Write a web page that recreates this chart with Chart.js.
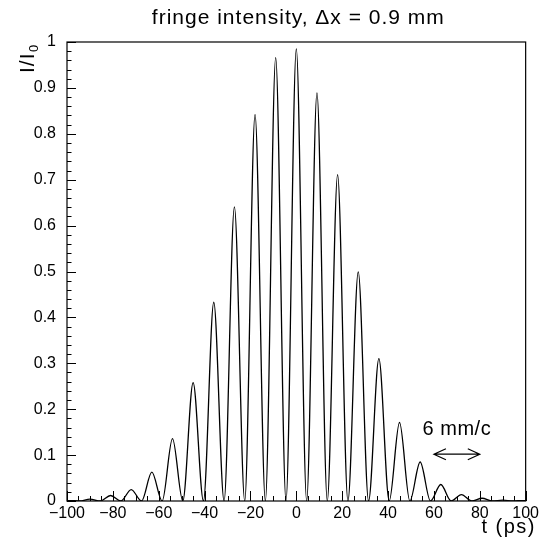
<!DOCTYPE html>
<html lang="en">
<head>
  <meta charset="UTF-8">
  <title>fringe intensity</title>
  <script src="https://cdn.jsdelivr.net/npm/chart.js"></script>
  <style>
    html, body { margin: 0; padding: 0; background: #fff; }
    #wrap { width: 542px; height: 540px; position: relative; }
  </style>
</head>
<body>
<div id="wrap"><canvas id="fringeChart"></canvas></div>
<script>
  // fringe maxima and minima (t in ps, I/I0)
  const times = [-100, -99, -94.5, -90, -85.5, -81, -76.5, -72, -67.5, -63, -58.5, -54,
    -49.5, -45, -40.5, -36, -31.5, -27, -22.5, -18, -13.5, -9, -4.5, 0, 4.5, 9, 13.5,
    18, 22.5, 27, 31.5, 36, 40.5, 45, 49.5, 54, 58.5, 63, 67.5, 72, 76.5, 81, 85.5,
    90, 94.5, 99, 100];
  const intensity = [0.001, 0.001, 0, 0.004, 0, 0.012, 0, 0.025, 0, 0.063, 0, 0.136,
    0, 0.258, 0, 0.433, 0, 0.641, 0, 0.842, 0, 0.966, 0, 0.985, 0, 0.889, 0,
    0.711, 0, 0.499, 0, 0.31, 0, 0.171, 0, 0.085, 0, 0.036, 0, 0.014, 0, 0.006, 0,
    0.002, 0, 0.001, 0.001];

  const xTicks = [-100, -80, -60, -40, -20, 0, 20, 40, 60, 80, 100];
  const yTicks = [0, 0.1, 0.2, 0.3, 0.4, 0.5, 0.6, 0.7, 0.8, 0.9, 1];

  // "6 mm/c" marker: arrow spans 20 ps
  const arrowFrom = 60;
  const arrowTo = 80;
  const arrowLevel = 0.102;
  const arrowText = '6 mm/c';
  const arrowTextLevel = 0.155;

  const FONT = '"Liberation Sans", Arial, sans-serif';

  // ROOT-like frame, inward ticks and texts
  const framePlugin = {
    id: 'frame',
    afterDatasetsDraw(chart) {
      const ctx = chart.ctx;
      const a = chart.chartArea;
      const xs = chart.scales.x;
      const ys = chart.scales.y;
      ctx.save();
      ctx.strokeStyle = '#000';
      ctx.lineWidth = 1.2;
      ctx.strokeRect(a.left, a.top, a.right - a.left, a.bottom - a.top);

      ctx.lineWidth = 1;
      ctx.beginPath();
      for (let v = -100; v <= 100; v += 5) {
        const px = Math.round(xs.getPixelForValue(v)) + 0.5;
        const len = (v % 20 === 0) ? 10 : 5;
        ctx.moveTo(px, a.bottom);
        ctx.lineTo(px, a.bottom - len);
      }
      for (let i = 0; i <= 50; i++) {
        const py = Math.round(ys.getPixelForValue(i * 0.02)) + 0.5;
        const len = (i % 5 === 0) ? 9 : 4.5;
        ctx.moveTo(a.left, py);
        ctx.lineTo(a.left + len, py);
      }
      ctx.stroke();

      // double arrow
      const x1 = xs.getPixelForValue(arrowFrom);
      const x2 = xs.getPixelForValue(arrowTo);
      const ay = ys.getPixelForValue(arrowLevel);
      ctx.lineWidth = 1.2;
      ctx.beginPath();
      ctx.moveTo(x1, ay); ctx.lineTo(x2, ay);
      ctx.moveTo(x1 + 12, ay - 5.5); ctx.lineTo(x1, ay); ctx.lineTo(x1 + 12, ay + 5.5);
      ctx.moveTo(x2 - 12, ay - 5.5); ctx.lineTo(x2, ay); ctx.lineTo(x2 - 12, ay + 5.5);
      ctx.stroke();

      ctx.fillStyle = '#000';
      ctx.font = '20px ' + FONT;
      ctx.letterSpacing = '0.5px';
      ctx.textAlign = 'center';
      ctx.textBaseline = 'middle';
      ctx.fillText(arrowText, (x1 + x2) / 2, ys.getPixelForValue(arrowTextLevel));

      // title
      ctx.font = '21px ' + FONT;
      ctx.letterSpacing = '1px';
      ctx.textBaseline = 'alphabetic';
      ctx.fillText('fringe intensity, \u0394x = 0.9 mm', (a.left + a.right) / 2 + 2, 24);

      // x axis title
      ctx.textAlign = 'right';
      ctx.font = '20px ' + FONT;
      ctx.letterSpacing = '1.5px';
      ctx.fillText('t (ps)', 536, 533);

      // y axis title I/I0
      ctx.translate(34, 73);
      ctx.rotate(-Math.PI / 2);
      ctx.textAlign = 'left';
      ctx.font = '21px ' + FONT;
      ctx.letterSpacing = '1px';
      ctx.fillText('I/I', 0, 0);
      const w = ctx.measureText('I/I').width;
      ctx.font = '13px ' + FONT;
      ctx.letterSpacing = '0px';
      ctx.fillText('0', w + 0.5, 4);
      ctx.restore();
    }
  };

  const ctx = document.getElementById('fringeChart').getContext('2d');
  const fringeChart = new Chart(ctx, {
    type: 'line',
    data: {
      datasets: [{
        data: times.map((t, i) => ({ x: t, y: intensity[i] })),
        borderColor: '#000',
        borderWidth: 1.3,
        pointRadius: 0,
        fill: false,
        cubicInterpolationMode: 'monotone'
      }]
    },
    options: {
      responsive: true,
      maintainAspectRatio: false,
      animation: false,
      layout: { padding: { top: 42, right: 15, left: 0, bottom: 0 } },
      plugins: { legend: { display: false }, tooltip: { enabled: false } },
      scales: {
        x: {
          type: 'linear',
          min: -100,
          max: 100,
          afterBuildTicks: s => { s.ticks = xTicks.map(v => ({ value: v })); },
          afterFit: s => { s.height = 39; },
          grid: { display: false, drawTicks: false },
          border: { display: false },
          ticks: {
            color: '#000',
            font: { family: FONT, size: 16 },
            padding: 3,
            maxRotation: 0,
            autoSkip: false,
            callback: v => String(v).replace('-', '\u2212')
          }
        },
        y: {
          min: 0,
          max: 1,
          afterBuildTicks: s => { s.ticks = yTicks.map(v => ({ value: v })); },
          afterFit: s => { s.width = 67; },
          grid: { display: false, drawTicks: false },
          border: { display: false },
          ticks: {
            color: '#000',
            font: { family: FONT, size: 16 },
            padding: 11,
            autoSkip: false,
            callback: v => String(Math.round(v * 10) / 10)
          }
        }
      }
    },
    plugins: [framePlugin]
  });
</script>
</body>
</html>
